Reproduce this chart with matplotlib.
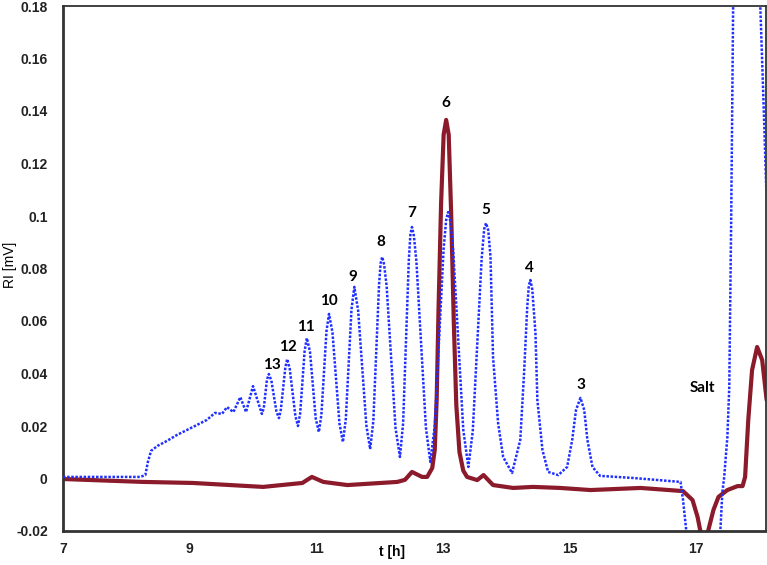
import matplotlib.pyplot as plt

# RI trace of the sample (blue dotted), t in hours, RI in mV
t_blue = [7.00, 8.22, 8.30, 8.34, 8.39, 8.49, 8.64, 8.80, 9.05, 9.27,
          9.40, 9.51, 9.59, 9.69, 9.80, 9.89, 10.00, 10.14,
          10.17, 10.195, 10.22, 10.25, 10.29, 10.33, 10.37, 10.41,
          10.44, 10.475, 10.51, 10.54, 10.58, 10.625, 10.67, 10.71,
          10.745, 10.78, 10.815, 10.85, 10.90, 10.945, 10.99, 11.04,
          11.08, 11.12, 11.16, 11.20, 11.255, 11.31, 11.365, 11.42,
          11.465, 11.51, 11.555, 11.60, 11.66, 11.725, 11.79, 11.85,
          11.90, 11.945, 11.99, 12.015, 12.04, 12.07, 12.11, 12.18, 12.25, 12.32,
          12.37, 12.415, 12.46, 12.485, 12.51, 12.54, 12.58, 12.655, 12.73, 12.80,
          12.87, 12.94, 13.01, 13.05, 13.08, 13.115, 13.16, 13.24, 13.32, 13.40,
          13.47, 13.54, 13.61, 13.65, 13.68, 13.715, 13.75, 13.79, 13.87, 13.95,
          14.09, 14.22, 14.28, 14.33, 14.355, 14.38, 14.41, 14.46, 14.49, 14.57,
          14.66, 14.82, 14.96, 15.04, 15.10, 15.17, 15.23, 15.28,
          15.36, 15.48, 16.00, 16.75, 16.79, 16.84, 16.90, 17.30,
          17.38, 17.41, 17.44, 17.49, 17.52, 17.55, 17.58, 17.80,
          18.01, 18.06, 18.11]
ri_blue = [0.0006, 0.0006, 0.0013, 0.0063, 0.0105, 0.0124, 0.0143, 0.0166, 0.0196, 0.0223,
           0.0250, 0.0246, 0.0272, 0.0253, 0.0310, 0.0253, 0.0352, 0.0246,
           0.0268, 0.0322, 0.0376, 0.0398, 0.0373, 0.0314, 0.0255, 0.0230,
           0.0263, 0.0343, 0.0422, 0.0455, 0.0418, 0.0328, 0.0237, 0.0200,
           0.0249, 0.0368, 0.0486, 0.0535, 0.0483, 0.0356, 0.0229, 0.0177,
           0.0243, 0.0402, 0.0561, 0.0627, 0.0556, 0.0383, 0.0210, 0.0139,
           0.0225, 0.0435, 0.0644, 0.0730, 0.0640, 0.0421, 0.0202, 0.0112,
           0.0219, 0.0478, 0.0737, 0.0820, 0.0844, 0.0815, 0.0733, 0.0463, 0.0193, 0.0082,
           0.0210, 0.0520, 0.0830, 0.0930, 0.0958, 0.0925, 0.0827, 0.0511, 0.0194, 0.0063,
           0.0202, 0.0539, 0.0876, 0.0985, 0.1015, 0.0980, 0.0873, 0.0530, 0.0186, 0.0044,
           0.0180, 0.0509, 0.0837, 0.0950, 0.0973, 0.0945, 0.0844, 0.0463, 0.0211, 0.0082,
           0.0021, 0.0147, 0.0402, 0.0653, 0.0735, 0.0756, 0.0720, 0.0553, 0.0299, 0.0109,
           0.0025, 0.0013, 0.0044, 0.0147, 0.0261, 0.0307, 0.0261, 0.0147,
           0.0044, 0.0010, 0.0002, -0.0013, -0.0082, -0.0196, -0.0400, -0.0400,
           -0.0196, -0.0055, 0.0006, 0.0158, 0.0349, 0.0980, 0.1800, 0.4500,
           0.1800, 0.1440, 0.1060]

# reference trace (dark red)
t_red = [7.00, 8.26, 9.05, 9.64, 10.16, 10.78, 10.85, 10.93, 11.11, 11.49,
         12.28, 12.40, 12.51, 12.67, 12.75, 12.83, 12.87, 12.90, 12.93, 12.97,
         13.01, 13.05, 13.09, 13.13, 13.17, 13.21, 13.26, 13.32, 13.38,
         13.54, 13.64, 13.79, 14.11, 14.42, 14.85,
         15.33, 16.12, 16.79, 16.94, 17.02, 17.06, 17.13, 17.19, 17.27, 17.35,
         17.49, 17.65, 17.73, 17.77, 17.82, 17.88, 17.96, 18.04, 18.11]
ri_red = [-0.0002, -0.0013, -0.0017, -0.0025, -0.0032, -0.0017, -0.0006, 0.0006, -0.0013, -0.0025,
          -0.0013, -0.0005, 0.0025, 0.0006, 0.0006, 0.0040, 0.0110, 0.0300, 0.0650, 0.1050,
          0.1310, 0.1366, 0.1310, 0.1000, 0.0600, 0.0280, 0.0100, 0.0030, 0.0006,
          -0.0006, 0.0013, -0.0025, -0.0036, -0.0032, -0.0036,
          -0.0044, -0.0036, -0.0048, -0.0082, -0.0147, -0.0196, -0.0253, -0.0196, -0.0120, -0.0070,
          -0.0044, -0.0029, -0.0029, 0.0006, 0.0223, 0.0413, 0.0501, 0.0451, 0.0299]

# peak labels
peak_names = ["13", "12", "11", "10", "9", "8", "7", "6", "5", "4", "3", "Salt"]
peak_t = [10.30, 10.55, 10.83, 11.20, 11.58, 12.02, 12.50, 13.05, 13.68, 14.36, 15.17, 17.09]
peak_ri = [0.0432, 0.0500, 0.0578, 0.0677, 0.0768, 0.0901, 0.1011, 0.1430, 0.1022, 0.0800, 0.0358, 0.0345]

x_ticks = [7, 9, 11, 13, 15, 17]
y_ticks = [-0.02, 0, 0.02, 0.04, 0.06, 0.08, 0.1, 0.12, 0.14, 0.16, 0.18]
y_tick_labels = ["-0.02", "0", "0.02", "0.04", "0.06", "0.08", "0.1", "0.12", "0.14", "0.16", "0.18"]

fig = plt.figure(figsize=(7.67, 5.65), dpi=100)
ax = fig.add_axes([63 / 767, 34 / 565, 703 / 767, 525 / 565])

ax.plot(t_red, ri_red, color="#8b1a2b", lw=3.0, solid_capstyle="round",
        solid_joinstyle="round", zorder=2)
ax.plot(t_blue, ri_blue, color="#1f2fff", lw=1.8, dashes=(1, 0.65),
        dash_capstyle="butt", zorder=3)

for name, tx, ty in zip(peak_names, peak_t, peak_ri):
    ax.text(tx, ty, name, ha="center", va="center", fontsize=11,
            fontweight="bold", family="Lato", color="black")

ax.set_xlim(7, 18.1)
ax.set_ylim(-0.02, 0.18)
ax.set_xticks(x_ticks)
ax.set_yticks(y_ticks)
ax.set_yticklabels(y_tick_labels)
ax.tick_params(length=0, labelsize=10)
ax.tick_params(axis="x", pad=8)
ax.tick_params(axis="y", pad=11)
for lab in ax.get_xticklabels() + ax.get_yticklabels():
    lab.set_fontweight("bold")
    lab.set_family("Liberation Sans")
    lab.set_color("#222222")

ax.set_xlabel("t [h]", fontsize=10, fontweight="bold", family="Liberation Sans")
ax.xaxis.set_label_coords(0.468, -0.027)
ax.set_ylabel("RI [mV]", fontsize=10, family="Liberation Sans")
ax.yaxis.set_label_coords(-0.066, 0.507)

for side in ["left", "bottom"]:
    ax.spines[side].set_linewidth(2.0)
    ax.spines[side].set_color("#333333")
for side in ["top", "right"]:
    ax.spines[side].set_linewidth(1.3)
    ax.spines[side].set_color("#333333")

fig.savefig("out.png", dpi=100)
